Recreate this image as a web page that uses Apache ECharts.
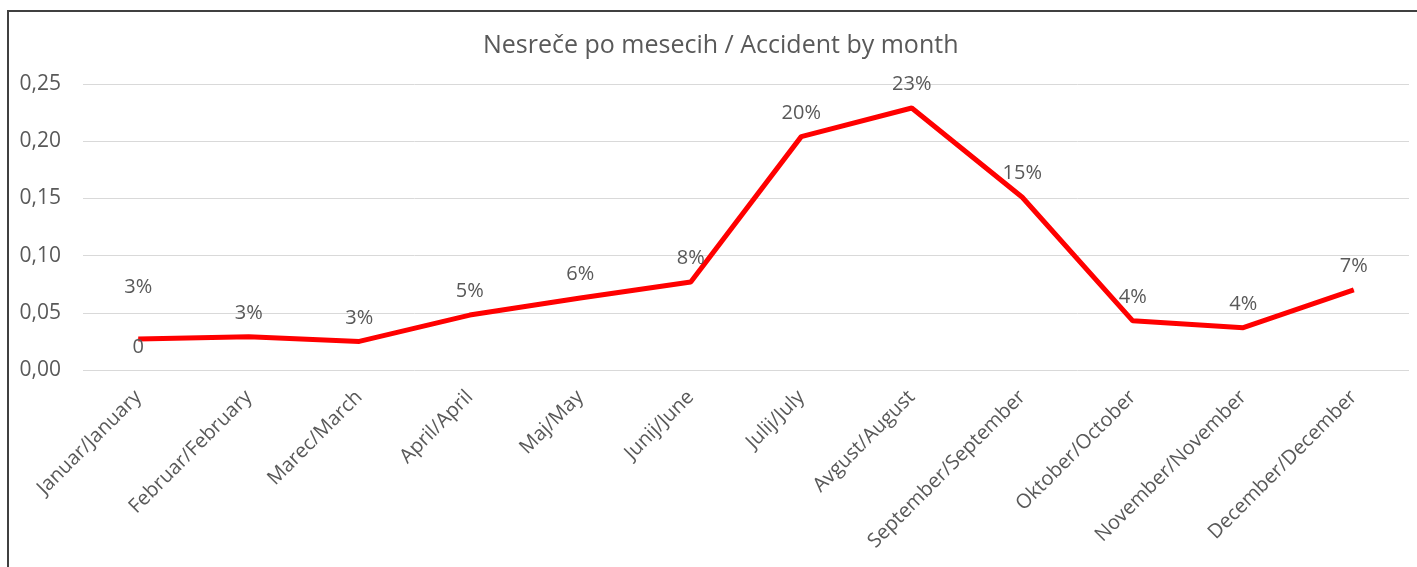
<!DOCTYPE html>
<html>
<head>
<meta charset="utf-8">
<script src="https://cdn.jsdelivr.net/npm/echarts@6/dist/echarts.min.js"></script>
<style>
  html, body { margin: 0; padding: 0; background: #fff; }
  #frame { position: absolute; left: 7px; top: 10px; width: 1420px; height: 570px; border-left: 2px solid #404040; border-top: 2px solid #404040; }
  #chart { position: absolute; left: 0; top: 0; width: 1417px; height: 567px; }
</style>
</head>
<body>
<div id="frame"></div>
<div id="chart"></div>
<script>
const months = ['Januar/January', 'Februar/February', 'Marec/March', 'April/April', 'Maj/May', 'Junij/June',
  'Julij/July', 'Avgust/August', 'September/September', 'Oktober/October', 'November/November', 'December/December'];
const shares = [0.027, 0.029, 0.025, 0.048, 0.063, 0.077, 0.204, 0.229, 0.151, 0.043, 0.037, 0.070];
const titleText = 'Nesreče po mesecih / Accident by month';

const txt = '#595959';
const font = 'Open Sans';

const myChart = echarts.init(document.getElementById('chart'));
myChart.setOption({
  animation: false,
  title: {
    text: titleText,
    left: 478,
    top: 28,
    textStyle: { color: txt, fontFamily: font, fontSize: 25, fontWeight: 'normal' }
  },
  grid: { left: 83, right: 8, top: 84, bottom: 197 },
  xAxis: {
    type: 'category',
    data: months,
    axisLine: { show: false },
    axisTick: { show: false },
    axisLabel: { rotate: 45, color: txt, fontFamily: font, fontSize: 20, margin: 24 }
  },
  yAxis: {
    type: 'value',
    min: 0,
    max: 0.25,
    interval: 0.05,
    axisLine: { show: false },
    axisTick: { show: false },
    splitLine: { lineStyle: { color: '#d9d9d9', width: 1 } },
    axisLabel: {
      color: txt, fontFamily: font, fontSize: 21, margin: 22,
      formatter: v => v.toFixed(2).replace('.', ',')
    }
  },
  series: [
    {
      type: 'line',
      data: shares.map((v, i) => i === 0 ? { value: v, label: { offset: [0, -28] } } : v),
      symbol: 'circle',
      symbolSize: 1,
      showAllSymbol: true,
      itemStyle: { color: '#ff0000' },
      lineStyle: { color: '#ff0000', width: 5 },
      label: {
        show: true,
        position: 'top',
        distance: 13,
        color: txt,
        fontFamily: font,
        fontSize: 20,
        formatter: p => Math.round(p.value * 100) + '%'
      },
      z: 3
    },
    {
      // stray "0" label under January
      type: 'line',
      data: shares.map((v, i) => i === 0 ? v : null),
      symbol: 'circle',
      symbolSize: 1,
      itemStyle: { color: '#ff0000' },
      lineStyle: { opacity: 0 },
      label: {
        show: true,
        position: 'inside',
        offset: [0, 8],
        color: txt,
        fontFamily: font,
        fontSize: 20,
        formatter: '0'
      },
      z: 4
    }
  ]
});
</script>
</body>
</html>
